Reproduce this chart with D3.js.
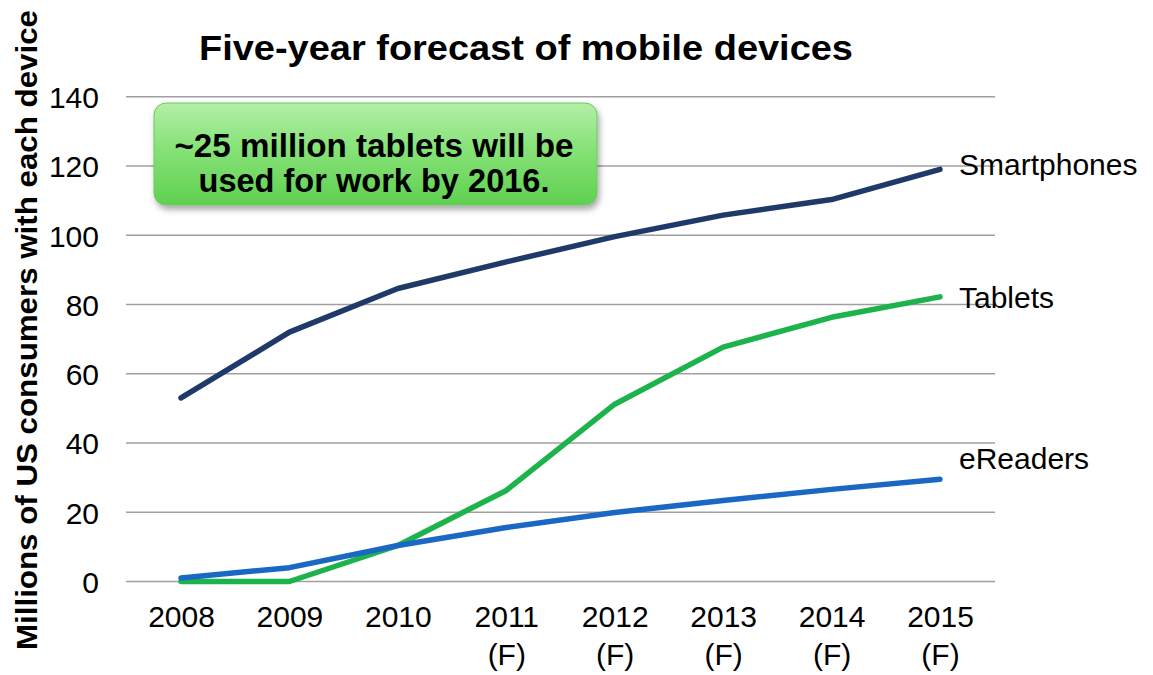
<!DOCTYPE html>
<meta charset="utf-8">
<style>
body { margin: 0; background: #fff; }
text { font-family: "Liberation Sans", Arial, sans-serif; }
.grid line { stroke: #a0a0a0; stroke-width: 1.5px; }
.tick text { font-size: 30px; fill: #000; }
.series { fill: none; stroke-width: 5.5px; stroke-linejoin: round; stroke-linecap: round; }
</style>
<svg width="1153" height="675"></svg>
<script src="https://cdn.jsdelivr.net/npm/d3@7/dist/d3.min.js"></script>
<script>

var years = ["2008", "2009", "2010", "2011", "2012", "2013", "2014", "2015"];
var forecast = ["", "", "", "(F)", "(F)", "(F)", "(F)", "(F)"];
var yTicks = [0, 20, 40, 60, 80, 100, 120, 140];

var smartphones = [53, 72, 84.6, 92.3, 99.6, 105.8, 110.3, 119];
var tablets = [0, 0, 10.4, 26.3, 51.2, 67.7, 76.3, 82.2];
var ereaders = [1, 4, 10.4, 15.6, 19.9, 23.4, 26.6, 29.5];

var seriesNames = ["Smartphones", "Tablets", "eReaders"];
var seriesColors = ["#1f3a68", "#1db34c", "#1a68c4"];

var svg = d3.select("svg");

var x = d3.scalePoint().domain(years).range([181, 940]);
var y = d3.scaleLinear().domain([0, 140]).range([581.5, 96.7]);

// grid lines
svg.append("g")
    .attr("class", "grid")
    .selectAll("line")
    .data(yTicks)
    .enter().append("line")
      .attr("x1", 126)
      .attr("x2", 995)
      .attr("y1", function(d) { return y(d); })
      .attr("y2", function(d) { return y(d); });

// y axis labels
var yAxis = svg.append("g")
    .attr("transform", "translate(99,0)")
    .call(d3.axisLeft(y).tickValues(yTicks).tickSize(0).tickPadding(0));
yAxis.select(".domain").remove();
yAxis.selectAll(".tick text").attr("dy", "0.36em");

// x axis labels
var xAxis = svg.append("g")
    .attr("transform", "translate(0,627)")
    .call(d3.axisBottom(x).tickSize(0).tickPadding(0));
xAxis.select(".domain").remove();
xAxis.selectAll(".tick text").attr("dy", "0");
xAxis.selectAll(".tick").append("text")
    .attr("y", 38)
    .attr("fill", "#000")
    .text(function(d, i) { return forecast[i]; });

// lines
var line = d3.line()
    .x(function(d, i) { return x(years[i]); })
    .y(function(d) { return y(d); });

var data = [smartphones, tablets, ereaders];
svg.selectAll(".series")
    .data(data)
    .enter().append("path")
      .attr("class", "series")
      .attr("stroke", function(d, i) { return seriesColors[i]; })
      .attr("d", line);

// end labels
var labelOffset = [6, 11, -10];
svg.selectAll(".endlabel")
    .data(data)
    .enter().append("text")
      .attr("class", "endlabel")
      .attr("x", 959)
      .attr("y", function(d, i) { return y(d[d.length - 1]) + labelOffset[i]; })
      .style("font-size", "30px")
      .text(function(d, i) { return seriesNames[i]; });

// title
svg.append("text")
    .attr("x", 526)
    .attr("y", 60)
    .attr("text-anchor", "middle")
    .attr("textLength", 654)
    .attr("lengthAdjust", "spacingAndGlyphs")
    .style("font-size", "35px")
    .style("font-weight", "bold")
    .text("Five-year forecast of mobile devices");

// y axis title
svg.append("text")
    .attr("transform", "translate(37,330) rotate(-90)")
    .attr("text-anchor", "middle")
    .attr("textLength", 640)
    .attr("lengthAdjust", "spacingAndGlyphs")
    .style("font-size", "30px")
    .style("font-weight", "bold")
    .text("Millions of US consumers with each device");

// callout box
var defs = svg.append("defs");
var grad = defs.append("linearGradient")
    .attr("id", "boxgrad")
    .attr("x1", 0).attr("y1", 0).attr("x2", 0).attr("y2", 1);
grad.append("stop").attr("offset", "0%").attr("stop-color", "#b3efa8");
grad.append("stop").attr("offset", "45%").attr("stop-color", "#86e277");
grad.append("stop").attr("offset", "100%").attr("stop-color", "#5fd050");
var shadow = defs.append("filter").attr("id", "shadow")
    .attr("x", "-10%").attr("y", "-10%").attr("width", "130%").attr("height", "140%");
shadow.append("feDropShadow")
    .attr("dx", 2).attr("dy", 4).attr("stdDeviation", 3)
    .attr("flood-color", "#000").attr("flood-opacity", 0.35);

svg.append("rect")
    .attr("x", 154)
    .attr("y", 103)
    .attr("width", 443)
    .attr("height", 102)
    .attr("rx", 12)
    .attr("fill", "url(#boxgrad)")
    .attr("stroke", "#6cc85c")
    .attr("stroke-width", 1)
    .attr("filter", "url(#shadow)");

var callout = ["~25 million tablets will be", "used for work by 2016."];
var calloutWidth = [399, 351];
svg.selectAll(".callout")
    .data(callout)
    .enter().append("text")
      .attr("class", "callout")
      .attr("x", 374)
      .attr("y", function(d, i) { return 157 + i * 35; })
      .attr("text-anchor", "middle")
      .attr("textLength", function(d, i) { return calloutWidth[i]; })
      .attr("lengthAdjust", "spacingAndGlyphs")
      .style("font-size", "34px")
      .style("font-weight", "bold")
      .text(function(d) { return d; });

</script>
